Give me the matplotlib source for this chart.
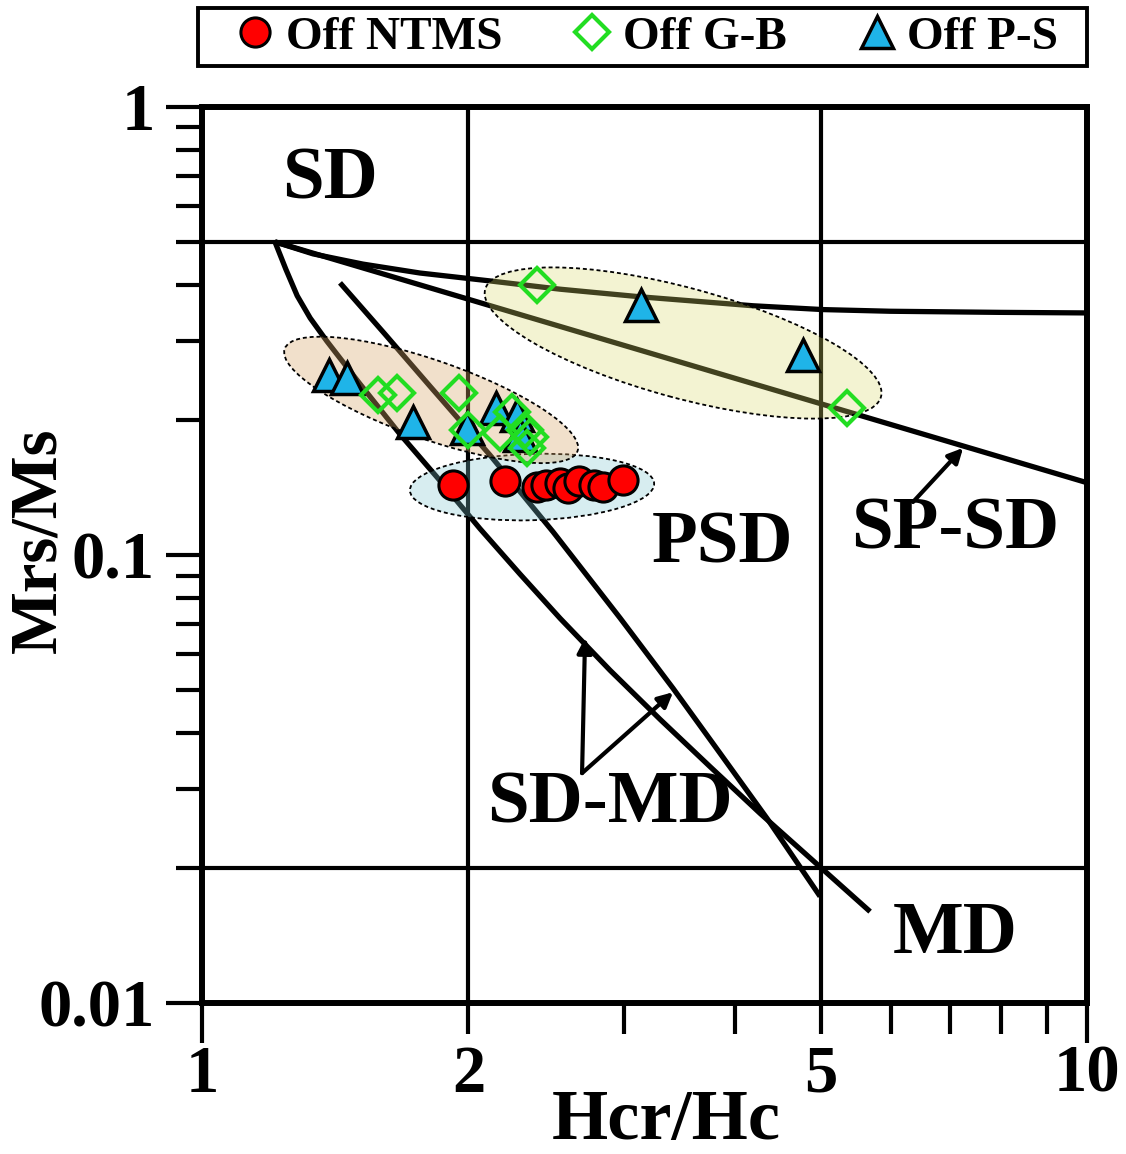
import numpy as np
import matplotlib.pyplot as plt
from matplotlib.patches import Ellipse, Rectangle
from matplotlib.colors import to_rgba
from matplotlib.ticker import FixedLocator, FixedFormatter, NullFormatter

plt.rcParams['font.family'] = ['Liberation Serif', 'DejaVu Serif']
plt.rcParams['font.weight'] = 'bold'

# samples (Hcr/Hc, Mrs/Ms)
ntms_hcr = [1.92, 2.20, 2.39, 2.45, 2.54, 2.59, 2.67, 2.77, 2.84, 2.99]
ntms_mrs = [0.143, 0.146, 0.142, 0.143, 0.145, 0.141, 0.146, 0.143, 0.142, 0.147]

gb_hcr = [1.58, 1.66, 1.95, 2.00, 2.17, 2.24, 2.32, 2.35, 2.33, 2.39, 5.36]
gb_mrs = [0.228, 0.230, 0.230, 0.190, 0.187, 0.209, 0.190, 0.183, 0.173, 0.401, 0.213]

ps_hcr = [1.39, 1.46, 1.73, 1.99, 2.15, 2.27, 2.29, 3.13, 4.78]
ps_mrs = [0.252, 0.248, 0.198, 0.192, 0.213, 0.205, 0.185, 0.361, 0.280]

# reference curves, sampled along the lines in the picture
spsd_x = [1.209, 10.0]
spsd_y = [0.50, 0.145]
sat_x = [1.209, 1.335, 1.520, 1.763, 2.116, 2.539, 3.126, 4.195, 5.032, 5.989, 7.975, 10.0]
sat_y = [0.500, 0.470, 0.446, 0.426, 0.409, 0.392, 0.377, 0.360, 0.353, 0.350, 0.348, 0.347]
sdmd1_x = [1.209, 1.244, 1.281, 1.325, 1.384, 1.508, 1.674, 1.844, 2.061,
           2.288, 2.539, 2.891, 3.292, 3.750, 4.272, 4.928, 5.687]
sdmd1_y = [0.500, 0.434, 0.379, 0.338, 0.300, 0.241, 0.186, 0.149, 0.1145,
           0.0906, 0.0722, 0.0553, 0.0430, 0.0337, 0.0265, 0.0206, 0.0160]
sdmd2_x = [1.432, 1.610, 1.810, 2.116, 2.493, 2.968, 3.406, 3.849, 4.351, 4.993]
sdmd2_y = [0.405, 0.311, 0.238, 0.167, 0.1126, 0.0723, 0.0504, 0.0361, 0.0258, 0.0173]

fig = plt.figure(figsize=(11.26, 11.54), dpi=100)
ax = fig.add_axes([0.1794, 0.1308, 0.786, 0.7765])
ax.set_xscale('log')
ax.set_yscale('log')
ax.set_xlim(1, 10)
ax.set_ylim(0.01, 1)

# domain boundaries
for yv in (0.5, 0.02):
    ax.axhline(yv, color='black', lw=3, zorder=1)
for xv in (2, 5):
    ax.axvline(xv, color='black', lw=3, zorder=1)

for cx, cy in ((spsd_x, spsd_y), (sat_x, sat_y), (sdmd1_x, sdmd1_y), (sdmd2_x, sdmd2_y)):
    ax.plot(cx, cy, color='black', lw=3.8, zorder=2, solid_capstyle='butt',
            solid_joinstyle='round')


def blob(cx, cy, w, h, ang, fc, alpha):
    # ellipse placed in axes fraction so it is not distorted by the log scales
    fx = np.log10(cx)
    fy = (np.log10(cy) + 2) / 2
    ax.add_patch(Ellipse((fx, fy), w, h, angle=ang, transform=ax.transAxes,
                         fc=to_rgba(fc, alpha), ec='black', ls=(0, (2.2, 1.6)),
                         lw=1.3, zorder=3))


blob(2.36, 0.1418, 0.276, 0.074, 1.6, '#7cc6d0', 0.3)
blob(1.815, 0.2219, 0.350, 0.088, -19, '#d9a86a', 0.35)
blob(3.496, 0.2973, 0.463, 0.123, -15, '#d8d86a', 0.3)

ax.plot(ntms_hcr, ntms_mrs, 'o', ms=21, mfc='#ff0000', mec='black', mew=2.2,
        zorder=5, label='Off NTMS')
ax.plot(gb_hcr, gb_mrs, 'D', ms=17, mfc='none', mec='#22dd22', mew=3,
        zorder=6, label='Off G-B')
ax.plot(ps_hcr, ps_mrs, '^', ms=23, mfc='#1fb4e8', mec='black', mew=2.5,
        zorder=5, label='Off P-S')

# region labels
fs = 54
ax.text(1.395, 0.687, 'SD', fontsize=fs, ha='center', va='center')
ax.text(3.869, 0.1053, 'PSD', fontsize=fs, ha='center', va='center')
ax.text(7.094, 0.1137, 'SP-SD', fontsize=fs, ha='center', va='center')
ax.text(2.891, 0.0277, 'SD-MD', fontsize=fs, ha='center', va='center')
ax.text(7.094, 0.01419, 'MD', fontsize=fs, ha='center', va='center')

arw = dict(arrowstyle='-|>', lw=3, color='black', mutation_scale=22,
           shrinkA=0, shrinkB=0)
ax.annotate('', xy=(7.244, 0.1734), xytext=(6.358, 0.1313), arrowprops=arw)
ax.annotate('', xy=(2.709, 0.0653), xytext=(2.688, 0.0326), arrowprops=arw)
ax.annotate('', xy=(3.406, 0.0494), xytext=(2.688, 0.0326), arrowprops=arw)

# axes and ticks
for sp in ax.spines.values():
    sp.set_linewidth(4.3)
ax.xaxis.set_major_locator(FixedLocator([1, 10]))
ax.xaxis.set_major_formatter(FixedFormatter(['1', '10']))
ax.xaxis.set_minor_locator(FixedLocator([2, 3, 4, 5, 6, 7, 8, 9]))
ax.xaxis.set_minor_formatter(FixedFormatter(['2', '', '', '5', '', '', '', '']))
ax.yaxis.set_major_locator(FixedLocator([0.01, 0.1, 1]))
ax.yaxis.set_major_formatter(FixedFormatter(['0.01', '0.1', '1']))
ax.yaxis.set_minor_locator(FixedLocator([0.02, 0.03, 0.04, 0.05, 0.06, 0.07, 0.08, 0.09,
                                         0.2, 0.3, 0.4, 0.5, 0.6, 0.7, 0.8, 0.9]))
ax.yaxis.set_minor_formatter(NullFormatter())
ax.tick_params(axis='x', which='major', direction='out', length=29, width=3,
               labelsize=48, pad=1)
ax.tick_params(axis='x', which='minor', direction='out', length=22, width=3,
               labelsize=48, pad=8)
ax.tick_params(axis='y', which='major', direction='out', length=26, width=3,
               labelsize=48, pad=8)
ax.tick_params(axis='y', which='minor', direction='out', length=19, width=3)

# axis titles placed where the reference has them
fig.text(666 / 1126, 1 - 1121 / 1154, 'Hcr/Hc', fontsize=52, fontweight='bold',
         ha='center', va='center')
fig.text(39 / 1126, 1 - 540 / 1154, 'Mrs/Ms', fontsize=48, fontweight='bold',
         ha='center', va='center', rotation=90)

# legend row above the plot with its own box
leg = fig.legend(loc='center', bbox_to_anchor=(645 / 1126, 1 - 37 / 1154),
                 ncol=3, fontsize=34, frameon=False, handletextpad=0.15,
                 columnspacing=1.4, borderpad=0, handlelength=1.0)
fig.patches.append(Rectangle((198 / 1126, 1 - 66 / 1154), 889 / 1126, 58 / 1154,
                             transform=fig.transFigure, fill=False,
                             ec='black', lw=2.8))

fig.savefig('out.png', dpi=100)
